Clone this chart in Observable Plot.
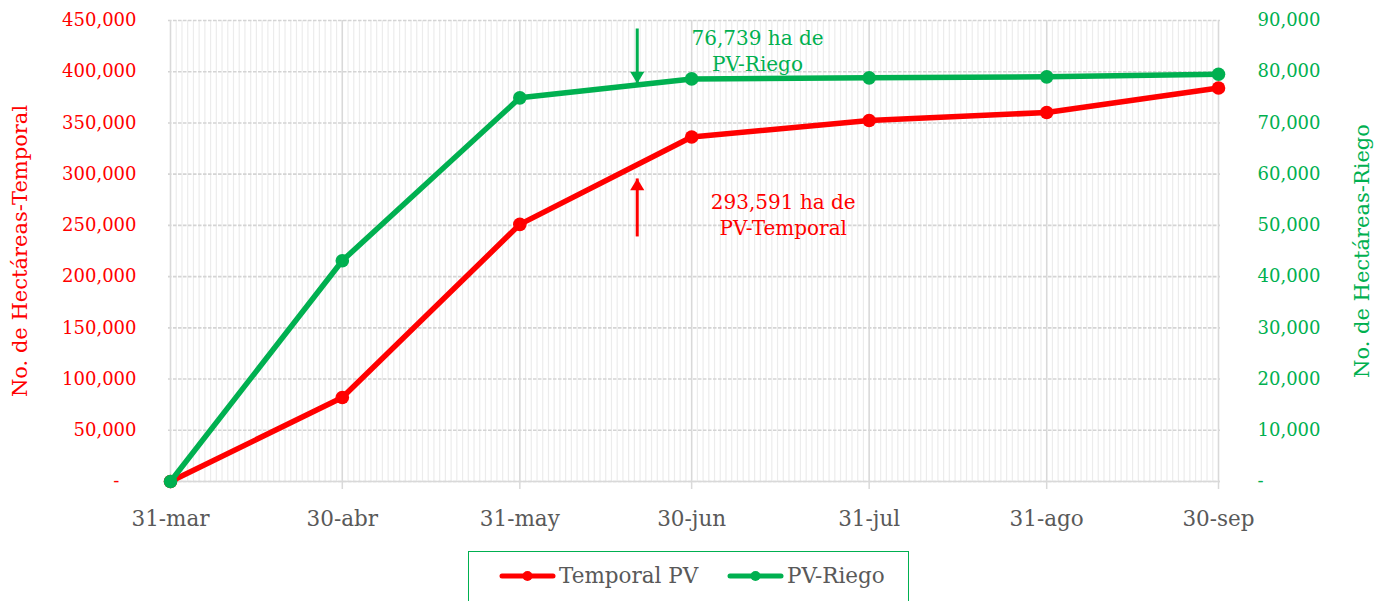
<!DOCTYPE html>
<html>
<head>
<meta charset="utf-8">
<script src="https://cdn.jsdelivr.net/npm/d3@7"></script>
<script src="https://cdn.jsdelivr.net/npm/@observablehq/plot@0.6"></script>
<style>
  html, body { margin: 0; padding: 0; background: #fff; }
  #wrap { position: relative; width: 1380px; height: 601px; overflow: hidden; font-family: "DejaVu Serif", serif; }
  #legend { position: absolute; left: 468px; top: 551px; width: 441px; height: 62px; border: 1.5px solid #00b050; box-sizing: border-box; }
  .item { position: absolute; top: 11px; display: flex; align-items: center; color: #595959; font-size: 21.5px; }
  .item svg { margin-right: 3px; }
</style>
</head>
<body>
<div id="wrap">
  <div id="chart"></div>
  <div id="legend"></div>
</div>
<script>
// ---- data ----
const dates = ["2023-03-31", "2023-04-30", "2023-05-31", "2023-06-30", "2023-07-31", "2023-08-31", "2023-09-30"];
const xLabels = ["31-mar", "30-abr", "31-may", "30-jun", "31-jul", "31-ago", "30-sep"];
const temporal = [0, 82000, 251000, 336300, 352400, 360200, 384100];
const riego = [0, 43100, 74900, 78600, 78800, 79000, 79500];
const leftTicks = [0, 50000, 100000, 150000, 200000, 250000, 300000, 350000, 400000, 450000];
const rightTicks = [0, 10000, 20000, 30000, 40000, 50000, 60000, 70000, 80000, 90000];
const seriesNames = ["Temporal PV", "PV-Riego"];
const colors = ["#ff0000", "#00b050"];
// annotations (left-axis units)
const noteText = ["76,739 ha de\nPV-Riego", "293,591 ha de\nPV-Temporal"];
const noteDate = ["2023-07-11T12:00Z", "2023-07-16T00:00Z"];
const noteValue = [421500, 261000];
const arrowDate = ["2023-06-20T12:00Z", "2023-06-20T12:00Z"];
const arrowFrom = [442200, 239200];
const arrowTo = [388500, 295800];

const ratio = 450000 / 90000;
const parse = s => new Date(s.length === 10 ? s + "T00:00Z" : s);
const dateObjs = dates.map(parse);
const labelMap = new Map(dateObjs.map((d, i) => [+d, xLabels[i]]));
const tData = dateObjs.map((d, i) => ({date: d, value: temporal[i]}));
const rData = dateObjs.map((d, i) => ({date: d, value: riego[i] * ratio}));
const notes = noteText.map((t, i) => ({text: t, date: parse(noteDate[i]), value: noteValue[i], color: colors[1 - i]}));
const arrows = arrowDate.map((d, i) => ({date: parse(d), from: arrowFrom[i], to: arrowTo[i], color: colors[1 - i], down: arrowFrom[i] > arrowTo[i]}));
const days = d3.utcDay.range(dateObjs[0], d3.utcDay.offset(dateObjs[dateObjs.length - 1], 1));
const fmt = d3.format(",");

const downTri = {draw(ctx, size) { const s = Math.sqrt(size); const w = s * 1.45, h = s * 1.2; ctx.moveTo(0, 0); ctx.lineTo(-w / 2, -h); ctx.lineTo(w / 2, -h); ctx.closePath(); }};
const upTri = {draw(ctx, size) { const s = Math.sqrt(size); const w = s * 1.45, h = s * 1.2; ctx.moveTo(0, 0); ctx.lineTo(-w / 2, h); ctx.lineTo(w / 2, h); ctx.closePath(); }};

const chart = Plot.plot({
  width: 1380,
  height: 550,
  marginTop: 20,
  marginBottom: 69,
  marginLeft: 168,
  marginRight: 160,
  style: {fontFamily: "DejaVu Serif", fontSize: "18px", background: "white", overflow: "visible"},
  x: {type: "utc", domain: [dateObjs[0], dateObjs[dateObjs.length - 1]], insetLeft: 2, insetRight: 2},
  y: {domain: [0, 450000]},
  marks: [
    Plot.gridX(days, {stroke: "#ececec", strokeOpacity: 1, strokeWidth: 1.2}),
    Plot.gridY(leftTicks, {stroke: "#d4d4d4", strokeOpacity: 1, strokeWidth: 1.6, strokeDasharray: "3.5,1.5"}),
    Plot.gridX(dateObjs, {stroke: "#d9d9d9", strokeOpacity: 1, strokeWidth: 1.5}),
    Plot.ruleY([0], {stroke: "#d9d9d9", strokeWidth: 1.5}),
    Plot.axisX({ticks: dateObjs, tickFormat: d => labelMap.get(+d), tickSize: 8, tickPadding: 21, stroke: "#d9d9d9", strokeWidth: 1.5, fill: "#595959", label: null, fontSize: 21.5}),
    Plot.axisY({anchor: "left", ticks: leftTicks, tickSize: 0, tickPadding: 32, tickFormat: d => d === 0 ? "-\u00a0\u00a0\u00a0" : fmt(d), fill: "#ff0000", label: null}),
    Plot.axisY({anchor: "right", ticks: rightTicks.map(v => v * ratio), tickSize: 0, tickPadding: 37, tickFormat: d => d === 0 ? "-" : fmt(d / ratio), fill: "#00b050", label: null}),
    Plot.text(["No. de Hectáreas-Temporal"], {frameAnchor: "left", textAnchor: "middle", rotate: -90, dx: -148, fill: "#ff0000", fontSize: 21}),
    Plot.text(["No. de Hectáreas-Riego"], {frameAnchor: "right", textAnchor: "middle", rotate: -90, dx: 142, fill: "#00b050", fontSize: 21}),
    Plot.line(tData, {x: "date", y: "value", stroke: colors[0], strokeWidth: 5.5}),
    Plot.dot(tData, {x: "date", y: "value", r: 6.8, fill: colors[0]}),
    Plot.line(rData, {x: "date", y: "value", stroke: colors[1], strokeWidth: 5.5}),
    Plot.dot(rData, {x: "date", y: "value", r: 6.8, fill: colors[1]}),
    Plot.link(arrows, {x1: "date", x2: "date", y1: "from", y2: "to", stroke: "color", strokeWidth: 3}),
    Plot.dot(arrows.filter(a => a.down), {x: "date", y: "to", symbol: downTri, r: 5.5, fill: "color", stroke: "none"}),
    Plot.dot(arrows.filter(a => !a.down), {x: "date", y: "to", symbol: upTri, r: 5.5, fill: "color", stroke: "none"}),
    Plot.text(notes, {x: "date", y: "value", text: "text", fill: "color", fontSize: 20, lineHeight: 1.3, lineAnchor: "middle"})
  ]
});
document.getElementById("chart").appendChild(chart);

// legend
const legend = document.getElementById("legend");
const lefts = [30, 258];
seriesNames.forEach((name, i) => {
  const item = document.createElement("div");
  item.className = "item";
  item.style.left = lefts[i] + "px";
  item.innerHTML = `<svg width="57" height="14"><line x1="3" y1="7" x2="54" y2="7" stroke="${colors[i]}" stroke-width="5" stroke-linecap="round"/><circle cx="28.5" cy="7" r="5" fill="${colors[i]}"/></svg><span>${name}</span>`;
  legend.appendChild(item);
});
</script>
</body>
</html>
